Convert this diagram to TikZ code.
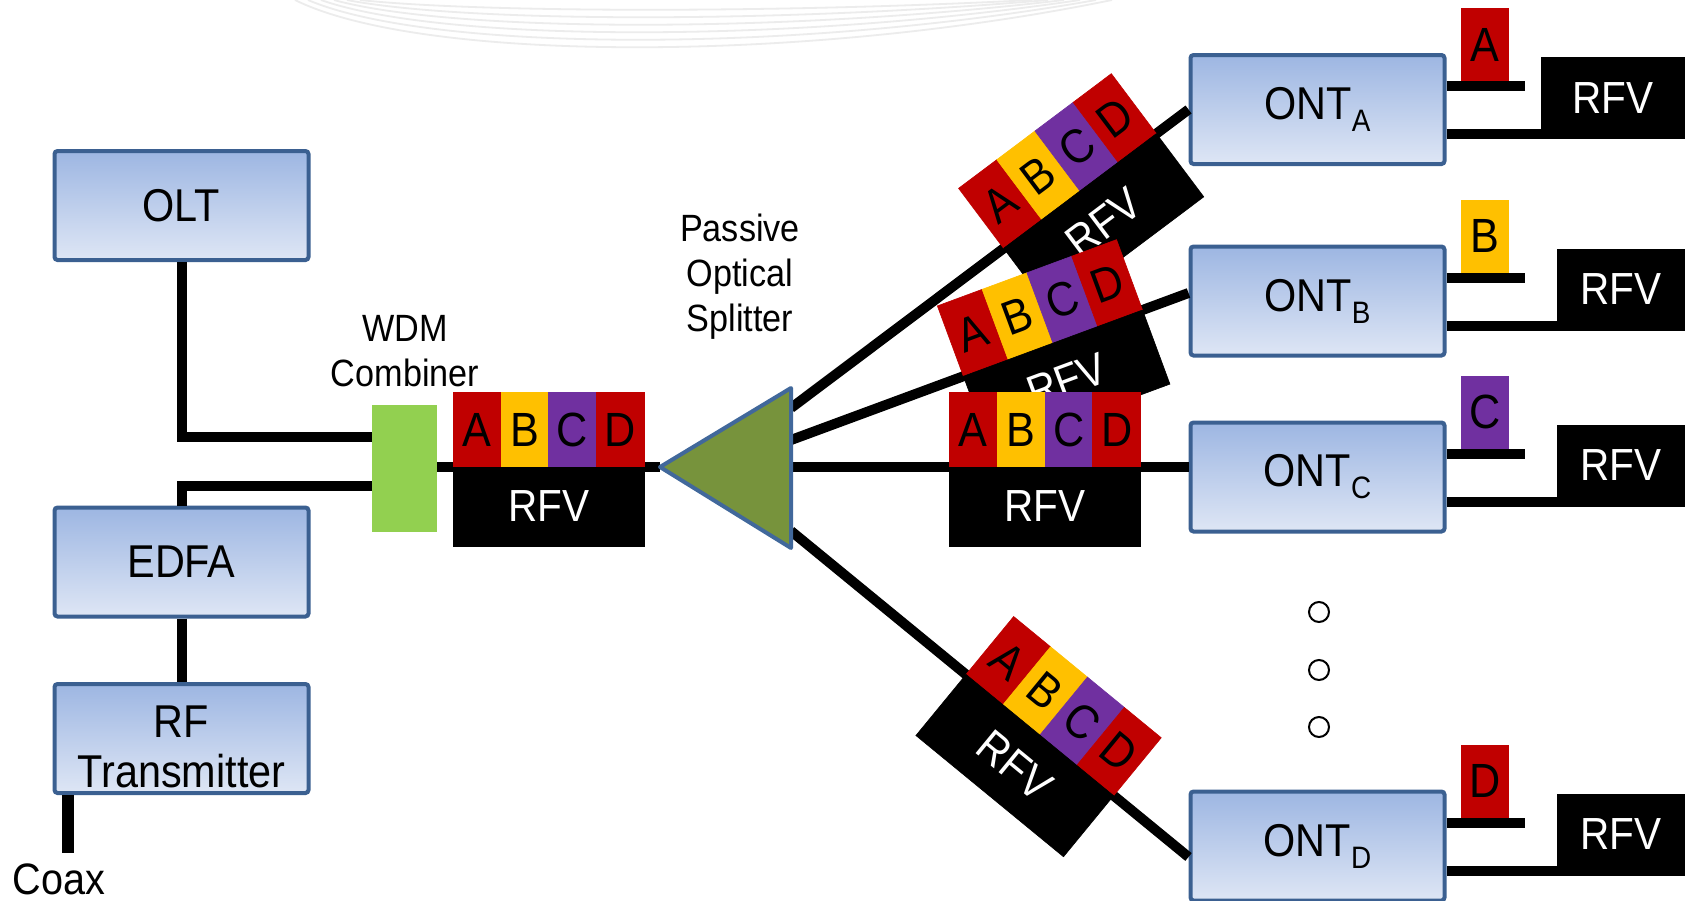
\documentclass[tikz,border=0pt]{standalone}
\usepackage{fontspec}
\setmainfont{Liberation Sans}[FakeStretch=0.9]
\usetikzlibrary{calc}

\definecolor{boxtop}{RGB}{157,182,226}
\definecolor{boxbot}{RGB}{222,230,245}
\definecolor{boxedge}{RGB}{59,96,145}
\definecolor{chA}{RGB}{192,0,0}
\definecolor{chB}{RGB}{255,192,0}
\definecolor{chC}{RGB}{112,48,160}
\definecolor{wdmgreen}{RGB}{146,208,80}
\definecolor{splolive}{RGB}{119,147,60}
\definecolor{spledge}{RGB}{65,104,155}
\definecolor{arcgray}{RGB}{236,236,236}

% subscript for the ONT labels
\newcommand\ontsub[1]{{\fontsize{15.5}{15.5}\selectfont\raisebox{-6pt}{#1}}}

% four-channel spectrum with the RF video band underneath
\newcommand\specblock[3]{%
  \begin{scope}[shift={(#2)},rotate=#3]
    \node[chan=chA] (#1-a) at (-71.625,37.5) {A};
    \node[chan=chB] (#1-b) at (-23.875,37.5) {B};
    \node[chan=chC] (#1-c) at (23.875,37.5) {C};
    \node[chan=chA] (#1-d) at (71.625,37.5) {D};
    \node[rfvblock] (#1-r) at (0,-39.5) {RFV};
  \end{scope}}

% output side of an ONT: dropped channel tag and RF video output
% #1 name, #2 centre y, #3 left x of RFV box, #4 tag colour, #5 letter
\newcommand\ontside[5]{%
  \node[tagbox=#4] (tag#1) at (1485,#2+65) {#5};
  \coordinate (stub#1) at (1525,#2+23.5);
  \draw[fiber] (ont#1.east |- stub#1) -- (stub#1);
  \node[rfvside,minimum width={(1685-#3)*0.5pt}] (rfv#1) at ({(1685+#3)/2},#2+11.5) {RFV};
  \path ([yshift=2.5pt]rfv#1.south west) coordinate (low#1);
  \draw[fiber] (ont#1.east |- low#1) -- (low#1);}

\tikzset{
  unit box/.style={draw=boxedge, line width=2pt, rounded corners=1.5pt,
    top color=boxtop, bottom color=boxbot, minimum width=127pt,
    minimum height=54.5pt, inner sep=0pt, align=center,
    font=\fontsize{23}{25}\selectfont},
  fiber/.style={line width=5pt},
  chan/.style={fill=#1, draw=#1, line width=0.3pt, minimum width=23.875pt,
    minimum height=37.5pt, inner sep=0pt, transform shape,
    font=\fontsize{24}{26}\selectfont},
  rfvblock/.style={fill=black, draw=black, line width=0.3pt, text=white,
    minimum width=95.5pt, minimum height=39.5pt, inner sep=0pt,
    transform shape, font=\fontsize{22.5}{24}\selectfont},
  rfvside/.style={fill=black, text=white, minimum height=41pt, inner sep=0pt,
    font=\fontsize{22.5}{24}\selectfont},
  tagbox/.style={fill=#1, minimum width=24pt, minimum height=36.5pt,
    inner sep=0pt, font=\fontsize{24}{26}\selectfont},
  caption/.style={align=center, font=\fontsize{19}{22.5}\selectfont},
  dotmark/.style={circle, draw, line width=1pt, minimum size=10pt, inner sep=0pt},
}

\begin{document}
\begin{tikzpicture}[x=0.5pt,y=0.5pt]
\path[use as bounding box, fill=white] (0,0) rectangle (1692,-900);

% faint decorative arcs along the top edge
\begin{scope}
  \clip (0,0) rectangle (1692,-900);
  \foreach \k in {0,...,5}{
    \draw[arcgray, line width=0.9pt]
      ({295+13*\k},0) .. controls ({420+10*\k},{-62+10*\k}) and ({800-8*\k},{-64+10*\k}) .. ({1112-16*\k},0);
  }
\end{scope}

% head-end equipment
\node[unit box] (olt)  at (181.5,-205.5) {OLT};
\node[unit box] (edfa) at (181.5,-562)   {EDFA};
\node[unit box] (rftx) at (181.5,-738.5) {\rule{0pt}{24pt}RF\\Transmitter};
\node[fill=wdmgreen, minimum width=32.5pt, minimum height=63.5pt, inner sep=0pt] (wdm) at (404.5,-468.5) {};
\node[caption] (wdmlabel) at (405,-351.5) {WDM\\Combiner};
\node[font=\fontsize{22}{24}\selectfont] (coax) at (59,-879) {Coax};
\coordinate (coaxend) at (68,-853);

% customer units
\node[unit box] (ontA) at (1317.5,-109.5) {ONT\ontsub{A}};
\node[unit box] (ontB) at (1317.5,-301)   {ONT\ontsub{B}};
\node[unit box] (ontC) at (1317.5,-477)   {ONT\ontsub{C}};
\node[unit box] (ontD) at (1317.5,-846)   {ONT\ontsub{D}};

% passive optical splitter geometry
\coordinate (spltip) at (660,-467);
\coordinate (spltop) at (791,-388);
\coordinate (splbot) at (791,-548);
\coordinate (sA) at (791,-408);
\coordinate (sB) at (791,-440);
\coordinate (sC) at (791,-467);
\coordinate (sD) at (791,-531);
\node[caption] (spllabel) at (740,-277) {Passive\\Optical\\Splitter};

% fibre entry points on the ONTs
\coordinate (inA) at (ontA.west);
\coordinate (inB) at ($(ontB.west)+(0,8)$);
\coordinate (inC) at ($(ontC.west)+(0,10)$);
\coordinate (inD) at ($(ontD.west)+(0,-11)$);
\coordinate (wdmout) at (wdm.east |- 0,-467);

% fibre and coax runs
\draw[fiber] (olt.south) |- (wdm.west |- 0,-437);
\draw[fiber] (edfa.north) |- (wdm.west |- 0,-486);
\draw[fiber] (edfa.south) -- (rftx.north);
\draw[line width=6pt] (rftx.south -| coaxend) -- (coaxend);
\draw[fiber] (wdmout) -- (spltip);
\draw[fiber] (sA) -- (inA);
\draw[fiber] (sB) -- (inB);
\draw[fiber] (sC) -- (inC);
\draw[fiber] (sD) -- (inD);

% splitter body
\filldraw[fill=splolive, draw=spledge, line width=2pt, line join=round]
  (spltip) -- (spltop) -- (splbot) -- cycle;

% spectra carried on each fibre
\specblock{feed}{$(wdmout)!0.5!(spltip)$}{0}
\specblock{brA}{$(sA)!0.727!(inA)$}{36.9}
\specblock{brB}{$(sB)!0.659!(inB)$}{20.3}
\specblock{brC}{$(sC)!0.639!(inC)$}{0}
\specblock{brD}{$(sD)!0.626!(inD)$}{-39.4}

% ONT outputs
\ontside{A}{-109.5}{1541}{chA}{A}
\ontside{B}{-301}{1557}{chB}{B}
\ontside{C}{-477}{1557}{chC}{C}
\ontside{D}{-846}{1557}{chA}{D}

% further ONTs not shown
\node[dotmark] (dot1) at (1319,-612) {};
\node[dotmark] (dot2) at (1319,-670) {};
\node[dotmark] (dot3) at (1319,-727) {};
\end{tikzpicture}
\end{document}
